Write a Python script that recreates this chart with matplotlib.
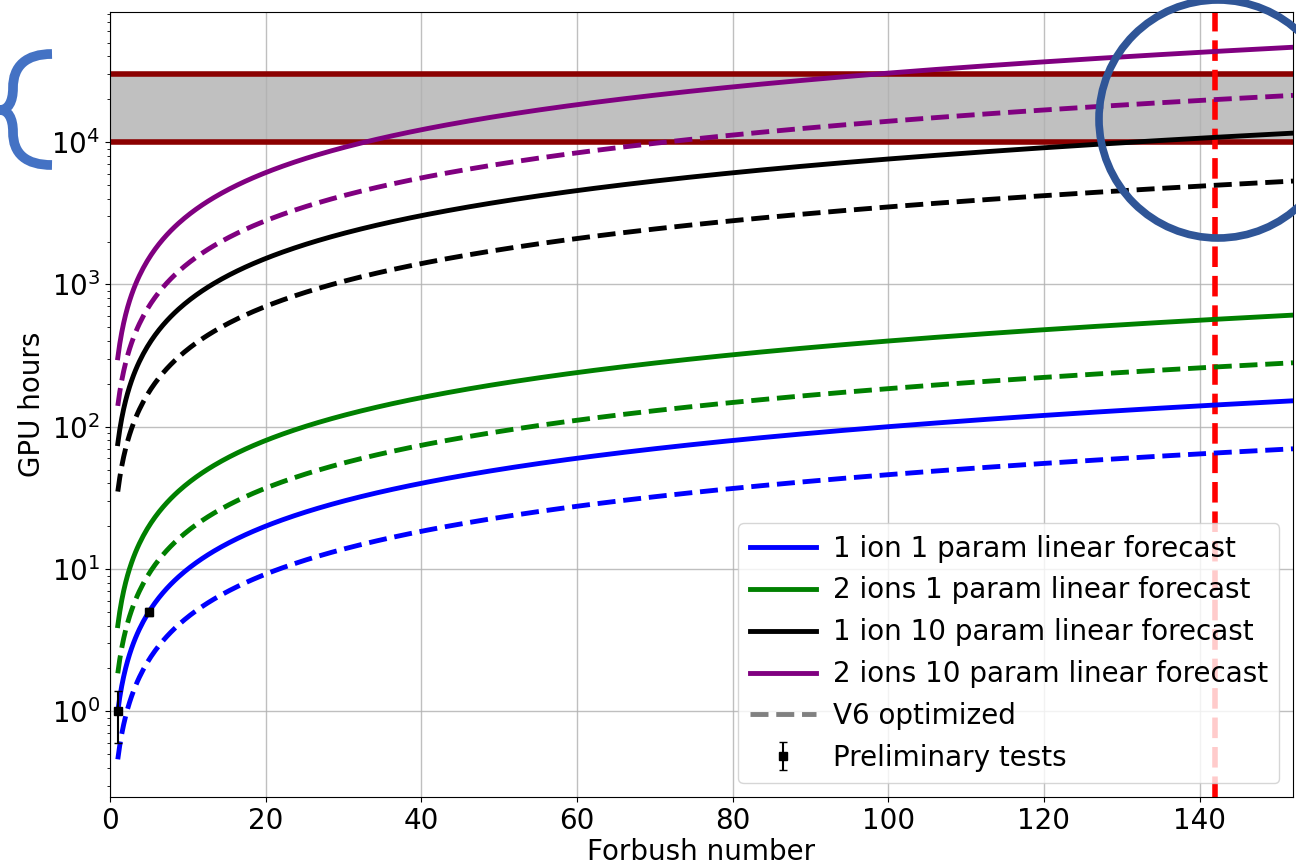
import numpy as np
import matplotlib
matplotlib.use("Agg")
import matplotlib.pyplot as plt
from matplotlib.patches import Ellipse, PathPatch
from matplotlib.path import Path
from matplotlib.lines import Line2D

# ---------------- data ----------------
labels = ["1 ion 1 param linear forecast",
          "2 ions 1 param linear forecast",
          "1 ion 10 param linear forecast",
          "2 ions 10 param linear forecast"]
colors = ["blue", "green", "black", "purple"]
# GPU hours per Forbush decrease (linear forecast slopes)
hours_per_forbush = [1.0, 4.0, 76.0, 305.0]
hours_per_forbush_v6 = [0.46, 1.85, 35.0, 140.0]
forbush_first = 1
forbush_last = 152

prelim_x = [1, 5]
prelim_y = [1.0, 5.0]
prelim_err = [0.4, 0.3]

band_low = 1e4
band_high = 3e4
marker_forbush = 142

# ---------------- figure ----------------
W, H = 1296, 865
fig = plt.figure(figsize=(W / 100, H / 100), dpi=100)
ax = fig.add_axes([110 / W, 1 - 797 / H, (1293 - 110) / W, (797 - 12) / H])

fs = 20
x = np.linspace(forbush_first, forbush_last, 600)

ax.axhspan(band_low, band_high, color="silver", zorder=1)
ax.axhline(band_low, color="darkred", lw=4, zorder=2)
ax.axhline(band_high, color="darkred", lw=4, zorder=2)

ax.axvline(marker_forbush, color="red", lw=4, ls="--", zorder=2.5)

handles = []
for lab, col, k, kv in zip(labels, colors, hours_per_forbush, hours_per_forbush_v6):
    h, = ax.plot(x, k * x, color=col, lw=3.5, label=lab, zorder=3)
    ax.plot(x, kv * x, color=col, lw=3.5, ls="--", zorder=3)
    handles.append(h)

v6_handle = Line2D([], [], color="gray", lw=3.5, ls="--", label="V6 optimized")
handles.append(v6_handle)

eb = ax.errorbar(prelim_x, prelim_y, yerr=prelim_err, fmt="s", color="black",
                 markersize=6, capsize=3, elinewidth=1.5, zorder=4,
                 label="Preliminary tests")
handles.append(eb)

ax.set_yscale("log")
ax.set_xlim(0, 152)
ax.set_ylim(0.25, 8.2e4)
ax.set_xticks([0, 20, 40, 60, 80, 100, 120, 140])
ax.grid(True, which="major", color="#b0b0b0", lw=1, alpha=0.8)
ax.tick_params(labelsize=fs)
ax.set_xlabel("Forbush number", fontsize=fs, labelpad=2)
ax.set_ylabel("GPU hours", fontsize=fs, labelpad=4)

leg = ax.legend(handles=handles, loc="lower right", fontsize=fs,
                handlelength=2.4, handletextpad=0.6, framealpha=0.8)
leg.set_zorder(10)

# ---------------- annotations (figure pixel coords) ----------------
def fx(px):
    return px / W

def fy(py):
    return 1 - py / H

# blue circle at top right
circ = Ellipse((fx(1218), fy(119)), 2 * 119 / W, 2 * 119 / H,
               transform=fig.transFigure, fill=False, edgecolor="#2F5597",
               lw=5.5, zorder=20)
fig.patches.append(circ)

# blue brace at left
pts = [(52, 54), (26, 54), (13, 66), (13, 88),
       (13, 102), (8, 110), (0, 110),
       (8, 110), (13, 118), (13, 132),
       (13, 154), (26, 165), (52, 165)]
verts = [(fx(a), fy(b)) for a, b in pts]
codes = [Path.MOVETO] + [Path.CURVE4] * 12
brace = PathPatch(Path(verts, codes), transform=fig.transFigure, fill=False,
                  edgecolor="#4472C4", lw=7, zorder=20, capstyle="butt")
fig.patches.append(brace)

fig.savefig("out.png", dpi=100)
